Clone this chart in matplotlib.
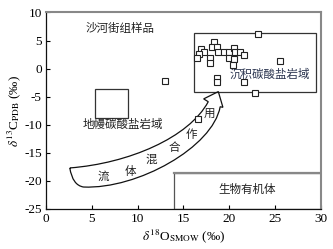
import matplotlib
matplotlib.use("Agg")
import matplotlib.pyplot as plt
from matplotlib.patches import Rectangle, PathPatch
from matplotlib.path import Path

plt.rcParams['axes.unicode_minus'] = False
plt.rcParams['mathtext.fontset'] = 'stix'

# Sample data (δ18O SMOW, δ13C PDB)
d18O = [23.1, 18.3, 18.1, 18.7, 16.9, 17.2, 16.7, 16.5, 17.9, 17.9,
        18.8, 19.4, 20.0, 20.5, 20.6, 21.2, 21.6, 20.0, 20.5, 20.4,
        25.5, 18.7, 18.7, 21.6, 22.8, 13.0, 16.6]
d13C = [6.1, 4.8, 3.9, 3.9, 3.5, 3.0, 2.6, 1.8, 1.9, 1.0,
        3.0, 3.0, 3.0, 3.6, 3.0, 3.0, 2.5, 1.9, 1.7, 0.7,
        1.3, -1.6, -2.4, -2.4, -4.3, -2.2, -9.0]

xticks = [0, 5, 10, 15, 20, 25, 30]
yticks = [10, 5, 0, -5, -10, -15, -20, -25]

# Field boxes: (x0, y0, width, height)
mantle_box = (5.3, -8.8, 3.7, 5.2)
sed_box = (16.2, -4.1, 13.3, 10.4)
org_box = (14.0, -25.0, 16.0, 6.4)

# Arrow outline (annotation shape): vertices with Bezier control points
arrow_verts = [(2.6, -17.7), (9.0, -16.9), (15.6, -12.3), (17.7, -5.9),
               (17.2, -5.4), (18.8, -4.1), (19.3, -6.9), (19.0, -6.8),
               (18.2, -14.0), (10.0, -21.5), (4.1, -21.1),
               (2.9, -20.8), (2.6, -17.7)]
arrow_codes = [Path.MOVETO, Path.CURVE4, Path.CURVE4, Path.CURVE4,
               Path.LINETO, Path.LINETO, Path.LINETO, Path.LINETO,
               Path.CURVE4, Path.CURVE4, Path.CURVE4,
               Path.CURVE3, Path.CURVE3]

fig = plt.figure(figsize=(3.33, 2.49), dpi=100)
ax = fig.add_axes([0.138, 0.161, 0.826, 0.789])
ax.set_xlim(0, 30)
ax.set_ylim(-25, 10)

cjk = ['Noto Sans CJK SC', 'DejaVu Sans']
serif = 'Liberation Serif'

for b in [mantle_box, sed_box]:
    ax.add_patch(Rectangle(b[:2], b[2], b[3], fill=False, ec='#333333', lw=0.9, zorder=2))
ax.add_patch(Rectangle(org_box[:2], org_box[2], org_box[3], fill=False, ec='#555555', lw=0.9, zorder=2))
ax.plot([org_box[0], org_box[0] + org_box[2]], [org_box[1] + org_box[3]] * 2,
        color='#888888', lw=1.6, zorder=3)

ax.add_patch(PathPatch(Path(arrow_verts, arrow_codes), fill=False, ec='#111111',
                       lw=0.9, zorder=2, joinstyle='miter'))

ax.plot(d18O, d13C, 's', ms=3.8, mfc='white', mec='#222222', mew=0.8, zorder=4, clip_on=False)

ax.text(8.1, 7.2, '沙河街组样品', family=cjk, fontsize=8.3, ha='center', va='center', color='#222222')
ax.text(24.4, -1.1, '沉积碳酸盐岩域', family=cjk, fontsize=8.3, ha='center', va='center', color='#2b3550')
ax.text(8.4, -10.0, '地幔碳酸盐岩域', family=cjk, fontsize=8.3, ha='center', va='center', color='#222222')
ax.text(21.9, -21.5, '生物有机体', family=cjk, fontsize=8.3, ha='center', va='center', color='#222222')

arrow_chars = ['流', '体', '混', '合', '作', '用']
arrow_cx = [6.25, 9.2, 11.5, 14.0, 15.9, 17.8]
arrow_cy = [-19.2, -18.3, -16.2, -14.1, -11.8, -8.2]
for ch, cx, cy in zip(arrow_chars, arrow_cx, arrow_cy):
    ax.text(cx, cy, ch, family=cjk, fontsize=8.3, ha='center', va='center', color='#222222')

ax.set_xticks(xticks)
ax.set_yticks(yticks)
ax.tick_params(direction='in', length=3, width=0.8, labelsize=9.5, top=False, right=False, pad=3)
for lab in ax.get_xticklabels() + ax.get_yticklabels():
    lab.set_family(serif)

for s in ['left', 'bottom']:
    ax.spines[s].set_color('#111111')
    ax.spines[s].set_linewidth(0.9)
for s in ['top', 'right']:
    ax.spines[s].set_color('#888888')
    ax.spines[s].set_linewidth(1.5)

ax.set_xlabel(r'$\delta^{18}$O$_{\rm SMOW}$ (‰)', fontsize=9.5, family=serif, labelpad=2)
ax.set_ylabel(r'$\delta^{13}$C$_{\rm PDB}$ (‰)', fontsize=9.5, family=serif, labelpad=1)

fig.savefig('out.png', dpi=100)
